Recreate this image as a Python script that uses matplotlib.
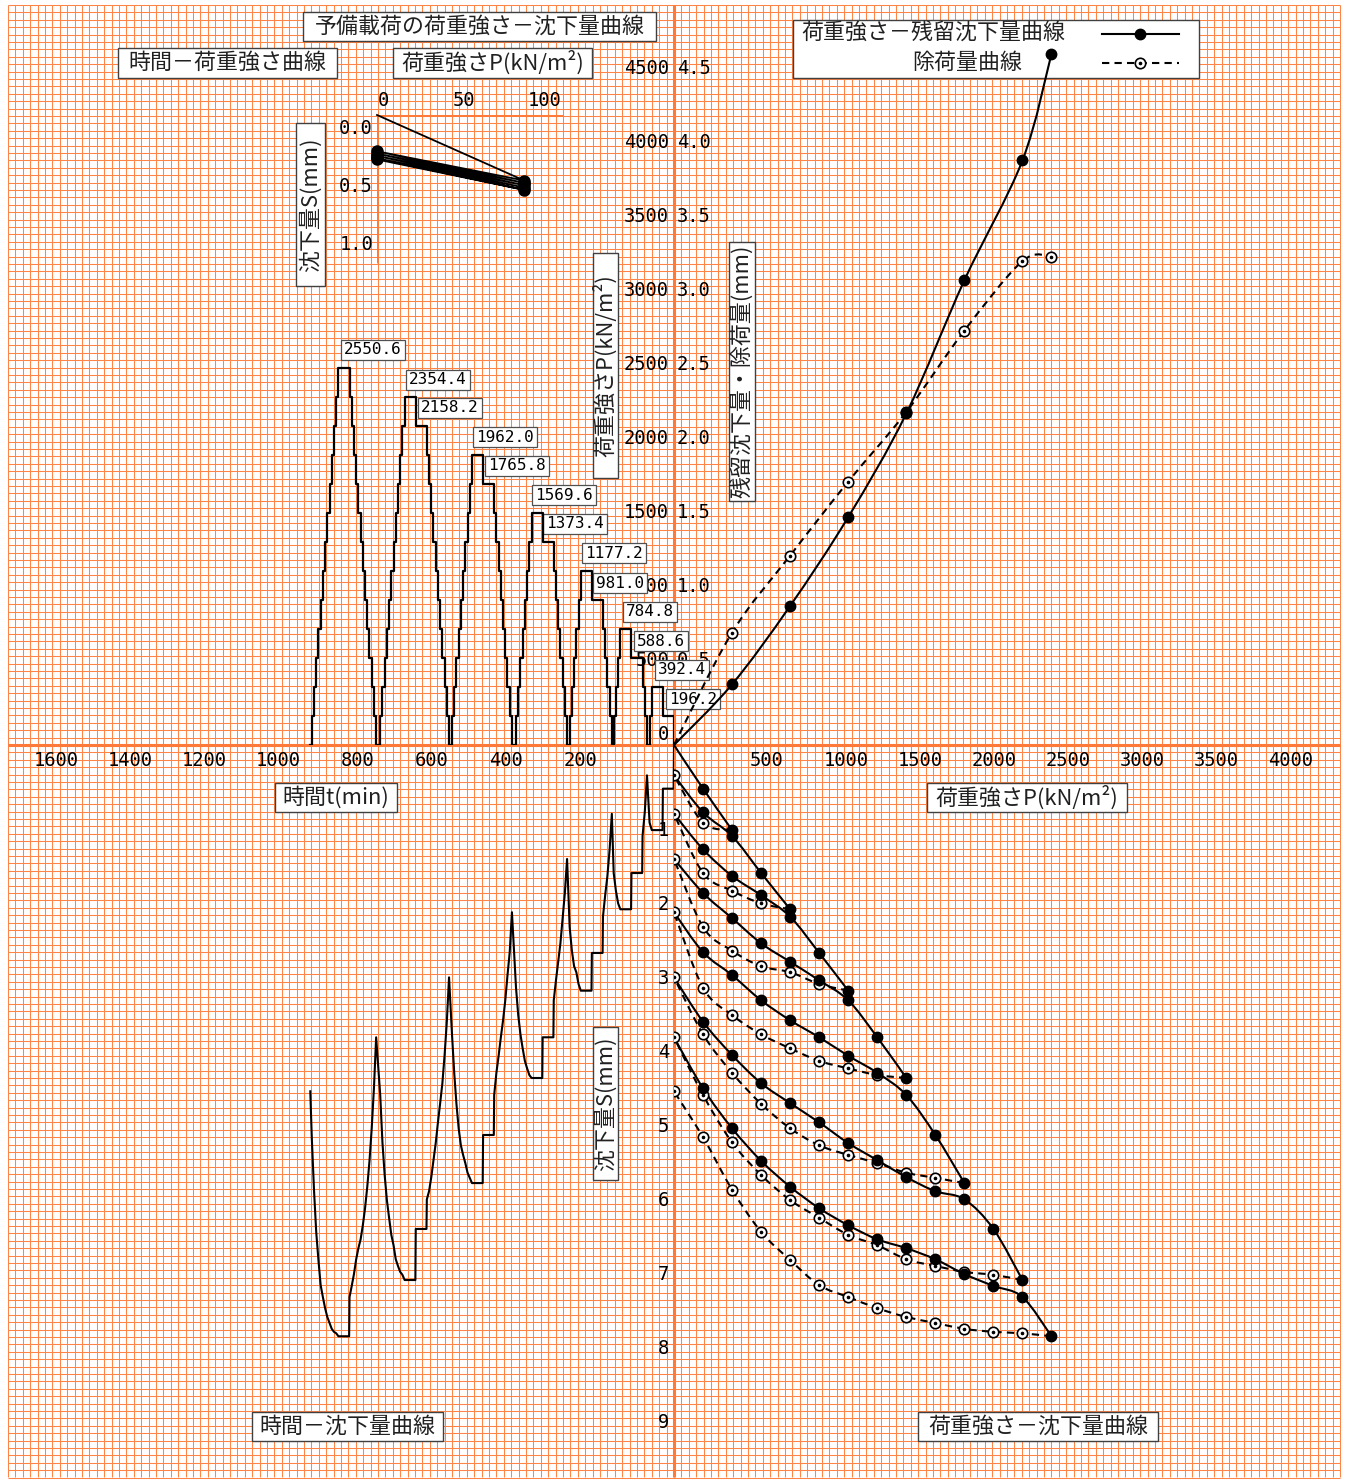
import numpy as np
import matplotlib
matplotlib.use("Agg")
import matplotlib.pyplot as plt
from matplotlib.patches import Rectangle, PathPatch
from matplotlib.path import Path

plt.rcParams["font.family"] = ["Noto Sans CJK JP", "DejaVu Sans"]
MONO = "DejaVu Sans Mono"

# ---- data ----
LOADS = [196.2, 392.4, 588.6, 784.8, 981.0, 1177.2, 1373.4,
         1569.6, 1765.8, 1962.0, 2158.2, 2354.4, 2550.6]
PEAK_IDX = [1, 3, 5, 7, 9, 11, 12]      # index in LOADS of each cycle max
NEW_STEPS = [2, 2, 2, 2, 2, 2, 1]       # new load steps per cycle
HOLD_NEW = 30                           # min, new load step
HOLD_REP = 6                            # min, reload / unload step
HOLD_ZERO = [7, 5, 7, 11, 8, 11, 4]     # min at P = 0 closing each cycle

# settlement (mm) at the end of each reload step (filled dots)
RELOAD_S = [
    [0.59, 1.15],
    [0.91, 1.23, 1.73, 2.22],
    [1.41, 1.77, 2.03, 2.32, 2.81, 3.32],
    [2.00, 2.34, 2.68, 2.93, 3.18, 3.45, 3.95, 4.50],
    [2.80, 3.11, 3.45, 3.72, 3.95, 4.20, 4.43, 4.73, 5.27, 5.92],
    [3.74, 4.19, 4.57, 4.84, 5.10, 5.38, 5.61, 5.84, 6.03, 6.14, 6.54, 7.23],
    [4.64, 5.18, 5.62, 5.97, 6.26, 6.49, 6.68, 6.80, 6.95, 7.15, 7.31, 7.46, 7.99],
]
# settlement (mm) during unloading, peak-1 step ... P = 0 (open circles)
UNLOAD_S = [
    [1.05, 0.41],
    [2.14, 1.97, 1.73, 0.93],
    [3.23, 3.07, 2.99, 2.78, 2.46, 1.54],
    [4.46, 4.37, 4.27, 4.10, 3.91, 3.65, 3.28, 2.26],
    [5.85, 5.78, 5.65, 5.54, 5.41, 5.18, 4.85, 4.43, 3.91, 3.14],
    [7.16, 7.12, 7.04, 6.95, 6.76, 6.62, 6.39, 6.15, 5.81, 5.37, 4.73, 3.95],
    [7.95, 7.93, 7.89, 7.81, 7.73, 7.61, 7.46, 7.30, 6.96, 6.58, 6.01, 5.30, 4.68],
]

# load - residual settlement / rebound
P_MAX = [392.4, 784.8, 1177.2, 1569.6, 1962.0, 2354.4, 2550.6]
RESIDUAL = [0.41, 0.94, 1.54, 2.24, 3.14, 3.95, 4.67]
REBOUND = [0.76, 1.28, 1.78, 2.25, 2.80, 3.27, 3.30]

# preliminary loading
PRE_P = [0, 98.1, 0, 98.1, 0, 98.1, 0, 98.1, 0, 98.1, 0]
PRE_S = [0, 0.56, 0.31, 0.58, 0.33, 0.60, 0.35, 0.62, 0.37, 0.64, 0.38]

T_TICKS = [200, 400, 600, 800, 1000, 1200, 1400, 1600]
P_TICKS = [500, 1000, 1500, 2000, 2500, 3000, 3500, 4000]
UP_TICKS = [500, 1000, 1500, 2000, 2500, 3000, 3500, 4000, 4500]
S_TICKS = [1, 2, 3, 4, 5, 6, 7, 8, 9]
PRE_PT = [0, 50, 100]
PRE_ST = [0.0, 0.5, 1.0]

# ---- layout ----
W, H = 1346, 1481
X0, Y0 = 674, 745          # shared origin (px)
KX = 0.148                 # px per kN/m2
KT = 0.37                  # px per min
KS_UP = 148.0              # px per mm, upper right
KS_LO = 74.0               # px per mm, lower half
MX0, MY0, KMX, KMY = 377, 115, 1.5, 117.0   # preliminary chart
ORANGE = "#FF8446"
AXIS_OR = "#FF7A38"
FS_JP = 15.8

fig = plt.figure(figsize=(W / 100, H / 100), dpi=100)
bg = fig.add_axes([0, 0, 1, 1])
bg.set_xlim(0, W)
bg.set_ylim(H, 0)
bg.axis("off")

# graph paper
xs = X0 + 7.4 * np.arange(-90, 91)
ys = Y0 + 7.4 * np.arange(-100, 100)
bg.vlines(xs, 5, 1477, color=ORANGE, lw=0.75, zorder=0)
bg.hlines(ys, 8, 1340, color=ORANGE, lw=0.75, zorder=0)
bg.vlines([X0], 5, 1477, color=AXIS_OR, lw=2.2, zorder=0.5)
bg.hlines([Y0], 8, 1340, color=AXIS_OR, lw=2.2, zorder=0.5)


def quad(x0, x1, y0, y1, xlim, ylim):
    a = fig.add_axes([x0 / W, 1 - y1 / H, (x1 - x0) / W, (y1 - y0) / H])
    a.set_xlim(*xlim)
    a.set_ylim(*ylim)
    a.axis("off")
    return a


ax_ur = quad(X0, W, 0, Y0, (0, (W - X0) / KX), (0, Y0 / KS_UP))
ax_lr = quad(X0, W, Y0, H, (0, (W - X0) / KX), ((H - Y0) / KS_LO, 0))
ax_ul = quad(0, X0, 0, Y0, (X0 / KT, 0), (0, Y0 / KX))
ax_ll = quad(0, X0, Y0, H, (X0 / KT, 0), ((H - Y0) / KS_LO, 0))
ax_pre = quad(MX0, 600, MY0, 300, (0, 223 / KMX), (185 / KMY, 0))

FILLED = dict(marker="o", ms=7.5, mfc="k", mec="k")
OPEN = dict(marker="o", ms=7.5, mfc="white", mec="k", mew=1.2)
DOT = dict(marker="o", ms=1.6, mfc="k", mec="k", ls="none")
DASH = [3.5, 2.5]


def smooth(ax, x, y, dashed=False, lw=1.5, zorder=3):
    """Excel-like smoothed line (cubic Bezier through the points)."""
    pts = np.column_stack([x, y]).astype(float)
    n = len(pts)
    verts, codes = [pts[0]], [Path.MOVETO]
    for i in range(n - 1):
        p0 = pts[max(i - 1, 0)]
        p1, p2 = pts[i], pts[i + 1]
        p3 = pts[min(i + 2, n - 1)]
        verts += [p1 + (p2 - p0) / 6, p2 - (p3 - p1) / 6, p2]
        codes += [Path.CURVE4] * 3
    ls = (0, DASH) if dashed else "-"
    ax.add_patch(PathPatch(Path(verts, codes), fill=False, ec="k", lw=lw,
                           ls=ls, zorder=zorder, capstyle="butt"))


def open_pts(a, x, y):
    a.plot(x, y, ls="none", **OPEN, zorder=4)
    a.plot(x, y, **DOT, zorder=5)


# ---- load - settlement (lower right) and time series ----
t_start, lv = [], []
ts_t, ts_s = [0.0], [0.0]
t = 0.0
s_prev = 0.0
for k, p in enumerate(PEAK_IDX):
    up = LOADS[:p + 1]
    down = LOADS[p - 1::-1] + [0.0]
    n_rep = p + 1 - NEW_STEPS[k]
    durs = [HOLD_REP] * n_rep + [HOLD_NEW] * NEW_STEPS[k] + [HOLD_REP] * p + [HOLD_ZERO[k]]
    for L, S, d in zip(up + down, RELOAD_S[k] + UNLOAD_S[k], durs):
        t_start.append(t)
        lv.append(L)
        if d == HOLD_NEW:          # long hold: settles at once, then flat
            ts_t.append(t + 1)
            ts_s.append(S)
        ts_t.append(t + d)
        ts_s.append(S)
        t += d

    # reload branch
    smooth(ax_lr, [0] + up, [s_prev] + RELOAD_S[k])
    ax_lr.plot(up, RELOAD_S[k], ls="none", **FILLED, zorder=6)
    # unload branch
    smooth(ax_lr, [up[-1]] + down, [RELOAD_S[k][-1]] + UNLOAD_S[k], dashed=True)
    open_pts(ax_lr, down, UNLOAD_S[k])
    s_prev = UNLOAD_S[k][-1]
t_end = t

ax_ul.plot([0] + t_start + [t_end], [0] + lv + [lv[-1]], color="k", lw=1.6,
           drawstyle="steps-post")
ax_ll.plot(ts_t, ts_s, color="k", lw=1.5)

# ---- residual settlement / rebound (upper right) ----
smooth(ax_ur, [0] + P_MAX, [0] + RESIDUAL)
ax_ur.plot(P_MAX, RESIDUAL, ls="none", **FILLED, zorder=6)
smooth(ax_ur, [0] + P_MAX, [0] + REBOUND, dashed=True)
open_pts(ax_ur, P_MAX, REBOUND)

# ---- preliminary loading ----
ax_pre.plot([0, 124], [0, 0], color=AXIS_OR, lw=2, solid_capstyle="butt")
ax_pre.plot([0, 0], [0, 1.265], color=AXIS_OR, lw=2, solid_capstyle="butt")
ax_pre.plot(PRE_P, PRE_S, color="k", lw=1.3, clip_on=False)
ax_pre.plot(PRE_P[1:], PRE_S[1:], ls="none", marker="o", ms=8, mfc="k",
            mec="k", clip_on=False)

# ---- tick labels ----
TK = dict(fontsize=13.5, family=MONO, color="k", zorder=7)
for v in T_TICKS:
    bg.text(X0 - v * KT - 3, 760, str(v), ha="right", va="center", **TK)
for v in P_TICKS:
    bg.text(X0 + v * KX + 2, 760, str(v), ha="left", va="center", **TK)
for v in [0] + UP_TICKS:
    y = Y0 - v * KX - 10
    bg.text(669, y, str(v), ha="right", va="center", **TK)
    if v:
        bg.text(677, y, f"{v / 1000:.1f}", ha="left", va="center", **TK)
for v in S_TICKS:
    bg.text(669, Y0 + v * KS_LO + 12, str(v), ha="right", va="center", **TK)
for v in PRE_PT:
    bg.text(MX0 + v * KMX + 1, 101, str(v), ha="left", va="center", **TK)
for v in PRE_ST:
    bg.text(373, MY0 + v * KMY + 13, f"{v:.1f}", ha="right", va="center", **TK)

# ---- peak value boxes ----
PEAK_LABEL_POS = [(693, 699), (682, 670), (661, 641), (650, 612), (620, 583),
                  (614, 553), (575, 524), (564, 495), (517, 466), (505, 437),
                  (450, 408), (438, 380), (373, 350)]
for v, (cx, cy) in zip(LOADS, PEAK_LABEL_POS):
    bg.text(cx, cy, f"{v:.1f}", ha="center", va="center", fontsize=11.5,
            family=MONO, zorder=8,
            bbox=dict(boxstyle="square,pad=0.18", fc="white", ec="#505050", lw=0.9))

# ---- framed titles ----
BOXES = [
    ("予備載荷の荷重強さ－沈下量曲線", 303, 12, 656, 41, 0),
    ("時間－荷重強さ曲線", 118, 48, 337, 78, 0),
    ("荷重強さP(kN/m²)", 393, 48, 592, 78, 0),
    ("沈下量S(mm)", 296, 123, 325, 286, 90),
    ("荷重強さP(kN/m²)", 593, 253, 618, 478, 90),
    ("残留沈下量・除荷量(mm)", 729, 242, 755, 501, 90),
    ("時間t(min)", 275, 783, 397, 812, 0),
    ("荷重強さP(kN/m²)", 927, 783, 1127, 812, 0),
    ("沈下量S(mm)", 593, 1027, 618, 1180, 90),
    ("時間－沈下量曲線", 252, 1412, 443, 1441, 0),
    ("荷重強さ－沈下量曲線", 918, 1412, 1158, 1441, 0),
]
for txt, x0, y0, x1, y1, rot in BOXES:
    bg.add_patch(Rectangle((x0, y0), x1 - x0, y1 - y0, fc="white",
                           ec="#404040", lw=1, zorder=8))
    bg.text((x0 + x1) / 2, (y0 + y1) / 2, txt, ha="center", va="center",
            rotation=rot, fontsize=FS_JP, color="#202020", zorder=9)

# ---- legend ----
bg.add_patch(Rectangle((793, 20), 406, 58, fc="white", ec="#404040", lw=1, zorder=8))
bg.text(933, 34, "荷重強さ－残留沈下量曲線", ha="center", va="center",
        fontsize=FS_JP, color="#202020", zorder=9)
bg.text(967, 63, "除荷量曲線", ha="center", va="center", fontsize=FS_JP,
        color="#202020", zorder=9)
bg.plot([1102, 1179], [34, 34], color="k", lw=1.5, zorder=9)
bg.plot([1140], [34], ls="none", zorder=9, **FILLED)
bg.plot([1102, 1179], [63, 63], color="k", lw=1.5, dashes=DASH, zorder=9)
bg.plot([1140], [63], ls="none", zorder=9, **OPEN)
bg.plot([1140], [63], zorder=10, **DOT)

fig.savefig("out.png", dpi=100)
